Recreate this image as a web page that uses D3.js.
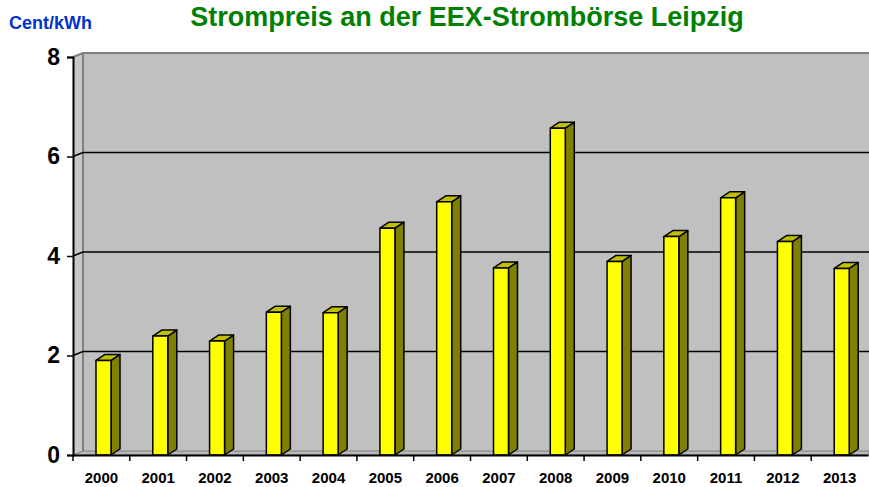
<!DOCTYPE html>
<html>
<head>
<meta charset="utf-8">
<script src="https://cdn.jsdelivr.net/npm/d3@7"></script>
<style>
  body { margin: 0; background: #fff; }
  svg { display: block; font-family: "Liberation Sans", Arial, sans-serif; }
</style>
</head>
<body>
<svg id="chart"></svg>
<script>
const years = ["2000", "2001", "2002", "2003", "2004", "2005", "2006", "2007", "2008", "2009", "2010", "2011", "2012", "2013"];
const prices = [1.90, 2.39, 2.29, 2.87, 2.86, 4.56, 5.09, 3.76, 6.57, 3.89, 4.39, 5.17, 4.29, 3.75];
const yTicks = [0, 2, 4, 6, 8];

const width = 869, height = 487;
const plotLeft = 73, plotRight = 868, plotBottom = 455, plotTop = 57;
const wallDx = 10, wallDy = -4;   // depth of the back wall
const barDx = 9, barDy = -6;      // depth of each column

const svg = d3.select("#chart")
    .attr("width", width)
    .attr("height", height)
    .attr("viewBox", [0, 0, width, height]);

const x = d3.scaleBand().domain(years).range([plotLeft, plotRight]);
const y = d3.scaleLinear().domain([0, 8]).range([plotBottom, plotTop]);

// walls
const wall = svg.append("g");
wall.append("polygon")
    .attr("points", [[plotLeft, y(8)], [plotLeft + wallDx, y(8) + wallDy], [plotLeft + wallDx, plotBottom + wallDy], [plotLeft, plotBottom]].join(" "))
    .attr("fill", "#c8c8c8");
wall.append("rect")
    .attr("x", plotLeft + wallDx).attr("y", y(8) + wallDy)
    .attr("width", width - plotLeft - wallDx).attr("height", plotBottom - y(8))
    .attr("fill", "#c0c0c0");
wall.append("polygon")
    .attr("points", [[plotLeft, plotBottom], [plotLeft + wallDx, plotBottom + wallDy], [width, plotBottom + wallDy], [width, plotBottom]].join(" "))
    .attr("fill", "#b8b8b8").attr("stroke", "#808080").attr("stroke-width", 1);
wall.append("path")
    .attr("d", `M${plotLeft},${y(8)}L${plotLeft + wallDx},${y(8) + wallDy}H${width}M${plotLeft + wallDx},${y(8) + wallDy}V${plotBottom + wallDy}`)
    .attr("fill", "none").attr("stroke", "#808080").attr("stroke-width", 2);

// gridlines on the back wall
svg.append("g")
    .selectAll("path")
    .data(yTicks.filter(v => v > 0 && v < 8))
    .join("path")
    .attr("d", v => `M${plotLeft},${y(v)}L${plotLeft + wallDx},${y(v) + wallDy}H${width}`)
    .attr("fill", "none").attr("stroke", "#000").attr("stroke-width", 1.5);

// columns
const bw = 15, off = 23;
const bar = svg.append("g")
    .selectAll("g")
    .data(years.map((yr, i) => ({ yr, v: prices[i] })))
    .join("g")
    .attr("stroke", "#000").attr("stroke-width", 1.5).attr("stroke-linejoin", "round");

bar.append("polygon")
    .attr("points", d => {
        const x0 = x(d.yr) + off + bw;
        return [[x0, y(d.v)], [x0 + barDx, y(d.v) + barDy], [x0 + barDx, plotBottom + barDy], [x0, plotBottom]].join(" ");
    })
    .attr("fill", "#808000");
bar.append("polygon")
    .attr("points", d => {
        const x0 = x(d.yr) + off;
        return [[x0, y(d.v)], [x0 + barDx, y(d.v) + barDy], [x0 + bw + barDx, y(d.v) + barDy], [x0 + bw, y(d.v)]].join(" ");
    })
    .attr("fill", "#c0c000");
bar.append("rect")
    .attr("x", d => x(d.yr) + off)
    .attr("y", d => y(d.v))
    .attr("width", bw)
    .attr("height", d => plotBottom - y(d.v))
    .attr("fill", "#ffff00");

// y axis
const yAxis = svg.append("g")
    .attr("transform", `translate(${plotLeft},0)`)
    .call(d3.axisLeft(y).tickValues(yTicks).tickSize(6).tickPadding(7).tickFormat(d3.format("d")));
yAxis.select(".domain").attr("stroke", "#000").attr("stroke-width", 2);
yAxis.selectAll(".tick line").attr("stroke", "#000").attr("stroke-width", 1.5);
yAxis.selectAll("text")
    .attr("fill", "#000")
    .style("font-size", "23px").style("font-weight", "bold")
    .style("font-family", "Liberation Sans, Arial, sans-serif");

// x axis
const xAxis = svg.append("g")
    .attr("transform", `translate(0,${plotBottom})`)
    .call(d3.axisBottom(x).tickSize(0).tickPadding(17));
xAxis.select(".domain").attr("stroke", "#000").attr("stroke-width", 2);
xAxis.selectAll("text")
    .attr("fill", "#000")
    .style("font-size", "15px").style("font-weight", "bold")
    .style("font-family", "Liberation Sans, Arial, sans-serif");
xAxis.selectAll(".sep")
    .data(years)
    .join("line")
    .attr("class", "sep")
    .attr("x1", d => x(d)).attr("x2", d => x(d))
    .attr("y1", 0).attr("y2", 6)
    .attr("stroke", "#000").attr("stroke-width", 1.5);

// titles
svg.append("text")
    .attr("x", 467).attr("y", 26)
    .attr("text-anchor", "middle")
    .attr("fill", "#008000")
    .style("font-size", "27px").style("font-weight", "bold")
    .text("Strompreis an der EEX-Strombörse Leipzig");

svg.append("text")
    .attr("x", 9).attr("y", 29)
    .attr("fill", "#0033cc")
    .style("font-size", "18px").style("font-weight", "bold")
    .text("Cent/kWh");
</script>
</body>
</html>
